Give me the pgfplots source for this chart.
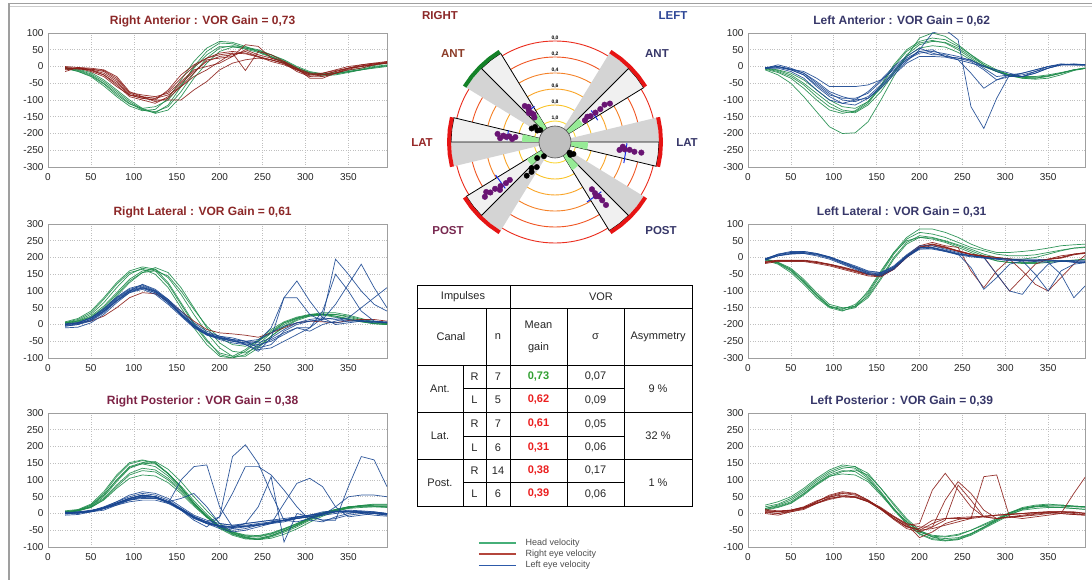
\documentclass[border=0pt]{standalone}
\usepackage{pgfplots}
\pgfplotsset{compat=1.18}
\usepackage{pgfplotstable}
\usepackage{fontspec}
\setmainfont{Liberation Sans}

\definecolor{hc}{RGB}{30,140,75}
\definecolor{rc}{RGB}{140,30,25}
\definecolor{lc}{RGB}{25,70,145}
\definecolor{titR}{RGB}{140,40,40}
\definecolor{titRP}{RGB}{125,35,70}
\definecolor{titL}{RGB}{55,55,105}
\definecolor{pur}{RGB}{105,20,115}
\definecolor{ringA}{RGB}{235,45,30}
\definecolor{ringB}{RGB}{240,85,35}
\definecolor{ringC}{RGB}{245,130,40}
\definecolor{ringD}{RGB}{250,165,40}
\definecolor{ringE}{RGB}{250,195,40}
\definecolor{ringF}{RGB}{250,215,60}
\definecolor{wg}{RGB}{212,212,212}
\definecolor{ww}{RGB}{240,240,240}
\definecolor{gp}{RGB}{150,235,150}
\definecolor{arcR}{RGB}{230,20,20}
\definecolor{arcG}{RGB}{20,130,40}
\definecolor{bm}{RGB}{20,40,230}
\definecolor{goodG}{RGB}{50,160,50}
\definecolor{badR}{RGB}{235,30,30}
\definecolor{legH}{RGB}{70,175,120}
\definecolor{legR}{RGB}{180,70,60}
\definecolor{legL}{RGB}{45,90,170}
\definecolor{labRA}{RGB}{140,60,40}
\definecolor{labRL}{RGB}{150,40,40}
\definecolor{labRP}{RGB}{120,40,80}
\definecolor{labLeft}{RGB}{45,70,150}

% ---------------- data: one row per trace, columns = time (ms) ----------------
\pgfplotstableread{
t 20 35 50 65 80 95 110 125 140 155 170 185 200 215 230 245 260 275 290 305 320 335 350 365 380 395
g1 -5 -12 -25 -50 -80 -110 -130 -138 -115 -60 0 45 70 68 55 45 30 15 -5 -20 -25 -22 -15 -8 0 5
g2 -3 -8 -18 -40 -70 -100 -125 -140 -130 -90 -35 10 45 58 55 48 35 20 0 -15 -22 -20 -15 -10 -5 0
g3 -5 -15 -30 -58 -90 -118 -132 -128 -95 -40 15 55 75 72 60 45 30 12 -8 -22 -28 -25 -18 -10 -2 3
g4 -4 -10 -22 -45 -75 -105 -128 -135 -120 -75 -20 25 55 62 58 50 35 18 -3 -18 -25 -22 -16 -10 -3 2
g5 -6 -14 -28 -52 -85 -112 -125 -120 -100 -55 -5 35 60 60 52 42 28 12 -5 -18 -22 -18 -12 -5 3 10
r1 -5 -5 -8 -15 -40 -80 -92 -95 -75 -35 0 25 35 40 38 28 20 10 -15 -30 -25 -15 -5 5 10 15
r2 -10 -5 -12 -25 -55 -90 -100 -110 -90 -50 -15 15 30 35 45 30 15 5 -10 -25 -20 -10 0 5 10 10
r3 0 -3 -5 -10 -30 -75 -90 -95 -85 -60 -20 20 25 30 50 35 25 15 -5 -20 -20 -12 -5 0 5 12
r4 -5 -8 -10 -20 -45 -85 -95 -100 -100 -100 -70 -45 -10 10 20 25 20 10 -10 -25 -25 -20 -10 -5 5 10
r5 -8 -5 -15 -30 -60 -85 -90 -105 -95 -60 -30 -10 15 40 -12 45 35 15 -5 -35 -35 -20 -5 0 5 15
r6 -3 -5 -10 -25 -50 -85 -95 -100 -70 -25 5 25 40 45 40 30 20 8 -10 -28 -30 -20 -8 0 8 12
r7 -15 -3 -8 -12 -35 -78 -85 -90 -80 -45 -10 0 10 30 65 60 25 12 -8 -22 -25 -15 -5 2 8 10
}\RAraw
\pgfplotstabletranspose[colnames from=t,input colnames to=x]{\RA}{\RAraw}

\pgfplotstableread{
t 20 35 50 65 80 95 110 125 140 155 170 185 200 215 230 245 260 275 290 305 320 335 350 365 380 395
g1 5 12 30 65 110 150 168 160 120 60 0 -50 -85 -95 -75 -45 -15 8 22 30 30 25 15 8 2 0
g2 8 18 40 80 125 160 172 165 125 65 5 -45 -90 -100 -90 -60 -25 5 20 28 30 25 18 10 3 0
g3 5 10 25 55 95 135 160 165 140 90 30 -25 -70 -95 -95 -70 -35 -5 15 28 32 30 22 12 5 2
g4 3 8 20 45 85 125 155 170 155 110 50 -10 -55 -80 -85 -65 -35 -8 12 25 30 30 25 15 8 3
g5 6 15 35 75 120 155 165 150 110 50 -10 -60 -95 -100 -80 -50 -20 5 18 25 28 22 15 8 3 0
g6 4 10 22 50 90 130 155 160 145 100 45 -5 -40 -60 -65 -50 -25 0 18 30 35 35 28 18 8 3
r1 0 5 10 25 50 80 95 92 70 40 10 -15 -25 -28 -32 -38 -25 -10 5 10 8 5 12 15 15 10
b1 0 5 20 45 80 105 115 100 70 30 -5 -30 -40 -45 -50 -55 -40 -15 5 15 20 15 10 10 8 5
b2 -5 0 10 35 70 100 120 105 75 35 0 -25 -35 -40 -50 -70 -60 -20 0 10 15 20 15 10 5 5
b3 -10 -8 5 30 65 95 110 100 75 40 5 -20 -35 -45 -60 -80 -40 80 130 70 20 0 5 10 10 5
b4 0 3 15 40 75 100 110 95 65 30 -5 -30 -45 -55 -60 -75 -70 -50 -30 -10 20 195 150 100 60 40
b5 -5 0 15 40 70 95 105 90 60 25 -10 -30 -40 -50 -55 -60 -50 -30 -10 -10 40 150 100 40 10 5
b6 0 5 18 42 78 102 112 98 68 30 -5 -28 -38 -45 -50 -45 -25 -5 5 10 15 60 120 180 110 50
b7 -3 2 12 38 72 98 108 95 65 28 -8 -32 -42 -50 -58 -65 -45 -25 -10 -20 0 10 20 50 80 110
b8 2 6 20 48 82 108 118 102 72 32 -2 -26 -40 -48 -55 -50 -10 80 80 30 10 5 10 12 10 8
}\RLraw
\pgfplotstabletranspose[colnames from=t,input colnames to=x]{\RL}{\RLraw}

\pgfplotstableread{
t 20 35 50 65 80 95 110 125 140 155 170 185 200 215 230 245 260 275 290 305 320 335 350 365 380 395
g1 5 10 25 60 110 148 158 150 118 78 32 -8 -42 -62 -74 -76 -66 -52 -36 -16 0 12 20 22 25 25
g2 0 8 20 50 95 135 150 148 120 82 38 -2 -38 -60 -72 -78 -70 -56 -40 -20 -5 8 18 24 28 28
g3 5 10 20 45 85 120 135 130 105 70 28 -10 -40 -58 -68 -70 -62 -48 -32 -14 0 10 18 22 22 22
g4 3 8 18 40 75 105 115 112 92 60 22 -12 -38 -55 -64 -66 -58 -45 -30 -14 -2 8 15 18 20 20
g5 8 12 28 65 115 152 160 152 120 78 30 -10 -45 -65 -76 -78 -68 -52 -34 -14 2 12 20 22 22 20
g6 2 8 22 55 100 140 152 155 132 95 50 8 -30 -55 -70 -78 -74 -62 -46 -26 -8 6 16 24 25 25
g7 4 8 18 42 80 115 128 124 100 66 26 -10 -40 -56 -66 -68 -60 -46 -30 -12 2 12 18 20 20 18
g8 6 10 25 55 100 138 148 140 112 75 32 -6 -40 -60 -72 -74 -66 -52 -36 -18 -2 10 20 24 26 26
b1 0 5 5 15 30 45 55 50 35 10 -15 -30 -40 -45 -40 -35 -30 -25 -15 -8 0 5 5 5 3 0
b2 5 0 8 20 35 50 60 55 40 15 -10 -25 -35 -40 -38 -35 -28 -20 -12 -5 2 5 8 5 0 -5
b3 -5 -3 5 10 25 40 50 50 35 15 -8 -25 -40 -50 -45 -35 -25 -20 -10 -5 5 8 5 3 0 -3
b4 0 2 8 18 35 55 65 60 45 20 -5 -20 -30 -35 -35 -30 -25 -20 -15 -10 -2 5 10 8 5 0
b5 3 5 10 15 25 35 40 40 30 10 -10 -30 -45 -55 -50 -40 -30 -20 -10 -5 0 5 5 0 -5 -8
b6 0 2 5 15 30 45 55 50 30 100 140 145 20 -40 -30 -25 -20 -15 -10 -5 0 5 5 3 0 -2
b7 0 3 8 18 30 40 45 45 35 10 -20 -40 -10 170 205 150 60 -20 -25 -15 -5 0 5 5 0 -5
b8 0 3 6 15 28 42 50 48 35 15 -10 -25 -10 60 140 140 115 70 20 -20 -25 -10 0 5 5 0
b9 2 4 8 16 30 44 52 50 36 14 -12 -28 -36 -40 -30 20 110 -85 0 -10 -20 -15 -5 0 2 0
b10 -2 2 6 14 28 40 48 46 32 12 -14 -30 -38 -42 -38 -32 -30 30 90 105 80 20 -10 -5 0 0
b11 1 3 7 17 32 46 54 50 34 12 -12 -28 -38 -42 -38 -34 -28 -22 -14 -8 -20 -20 80 170 160 80
b12 0 3 5 15 30 45 55 50 35 45 60 20 -30 -35 -30 -25 -20 -20 -15 -10 -5 20 50 55 55 50
}\RPraw
\pgfplotstabletranspose[colnames from=t,input colnames to=x]{\RP}{\RPraw}

\pgfplotstableread{
t 20 35 50 65 80 95 110 125 140 155 170 185 200 215 230 245 260 275 290 305 320 335 350 365 380 395
g1 -5 -12 -25 -50 -80 -110 -130 -135 -110 -60 0 45 70 78 70 50 25 0 -15 -25 -32 -35 -30 -20 -10 -5
g2 -8 -18 -35 -65 -100 -130 -140 -132 -105 -55 5 50 75 85 80 60 35 10 -10 -25 -35 -38 -35 -25 -12 -5
g3 -10 -25 -50 -90 -135 -180 -200 -198 -165 -100 -30 30 85 100 90 65 35 5 -15 -28 -35 -35 -28 -20 -10 -5
g4 -5 -10 -20 -40 -70 -100 -120 -125 -105 -65 -15 30 55 62 58 42 20 0 -15 -25 -30 -30 -25 -18 -10 -5
g5 -6 -15 -30 -55 -90 -120 -135 -138 -115 -75 -20 35 65 75 72 55 30 5 -12 -25 -32 -32 -28 -20 -10 -3
b1 -5 5 -5 -20 -50 -80 -100 -105 -90 -55 -15 20 40 45 38 30 18 2 -15 -30 -30 -15 0 5 5 5
b2 -3 0 -8 -15 -35 -60 -60 -60 -55 -40 -10 20 45 50 30 25 20 -5 -30 -25 -20 -10 0 8 5 3
b3 -5 0 -10 -25 -60 -90 -110 -115 -95 -60 -20 15 50 100 110 80 -120 -185 -95 -25 -25 -15 -5 5 5 5
b4 -5 -5 -15 -35 -70 -100 -110 -100 -75 -40 0 30 55 40 30 25 15 -10 -40 -30 -20 -10 0 5 5 5
b5 -5 -3 -10 -25 -55 -85 -95 -95 -80 -45 -5 25 45 35 35 20 -20 -65 -40 -25 -30 -20 -5 5 8 5
b6 -3 0 -8 -20 -45 -75 -90 -100 -95 -65 -25 10 30 30 28 20 10 0 -10 -20 -30 -20 -5 5 5 5
}\LAraw
\pgfplotstabletranspose[colnames from=t,input colnames to=x]{\LA}{\LAraw}

\pgfplotstableread{
t 20 35 50 65 80 95 110 125 140 155 170 185 200 215 230 245 260 275 290 305 320 335 350 365 380 395
g1 -5 -15 -35 -70 -110 -145 -158 -150 -110 -50 10 55 75 70 60 45 30 20 10 5 5 8 15 22 28 32
g2 -8 -20 -45 -80 -120 -150 -160 -145 -100 -40 15 60 85 85 75 60 40 25 15 15 18 22 28 35 38 40
g3 -5 -18 -40 -75 -115 -148 -155 -140 -105 -45 15 50 60 55 45 30 15 0 -10 -15 -15 -15 -12 -10 -8 -5
g4 -6 -16 -38 -72 -112 -146 -152 -145 -115 -60 0 45 65 60 50 38 25 10 0 -5 -5 0 10 20 28 30
g5 -4 -14 -32 -65 -105 -140 -150 -148 -120 -65 -5 40 60 58 48 35 20 5 -10 -15 -18 -18 -15 -12 -8 -5
b1 -5 10 15 15 10 0 -15 -30 -45 -50 -30 5 30 30 20 10 5 0 -3 -5 -8 -10 -10 -12 -12 -15
b2 -8 5 12 12 5 -5 -20 -35 -50 -55 -35 0 25 28 20 10 -30 -95 -60 -20 -10 -10 -10 -10 -15 -15
b3 -3 8 15 18 12 2 -12 -28 -42 -45 -25 8 35 35 25 15 5 0 -50 -100 -110 -60 -20 -10 -10 -10
b4 -5 5 10 12 8 -2 -18 -32 -48 -52 -32 2 28 30 22 12 5 0 -5 -10 -10 -50 -100 -40 -20 -15
b5 -6 6 12 14 10 0 -15 -30 -45 -48 -28 5 30 28 18 8 2 -2 -5 -8 -10 -12 -15 -50 -120 -80
b6 -4 10 18 18 12 2 -12 -25 -40 -45 -28 5 25 25 18 10 5 0 -3 -5 -5 -5 -8 -10 -10 -12
r1 -15 -10 -10 -10 -15 -20 -30 -40 -50 -55 -35 0 30 40 30 20 10 5 0 -5 -8 -10 -5 0 10 15
r2 -18 -12 -12 -12 -18 -25 -35 -45 -55 -58 -35 5 35 45 35 30 -40 -90 -40 -5 -10 -10 -5 5 10 12
r3 -12 -8 -8 -8 -12 -20 -28 -38 -48 -52 -32 2 28 35 28 18 8 2 -50 -100 -60 -20 -5 0 10 15
r4 -15 -10 -10 -10 -15 -22 -32 -42 -52 -55 -35 0 32 40 32 20 10 3 -3 -5 -40 -80 -100 -60 -20 10
r5 -14 -9 -9 -9 -14 -21 -30 -40 -50 -54 -34 1 30 38 30 19 9 4 0 -4 -8 -10 -6 -2 8 14
}\LLraw
\pgfplotstabletranspose[colnames from=t,input colnames to=x]{\LL}{\LLraw}

\pgfplotstableread{
t 20 35 50 65 80 95 110 125 140 155 170 185 200 215 230 245 260 275 290 305 320 335 350 365 380 395
g1 25 35 50 75 105 130 145 140 110 65 15 -30 -60 -75 -80 -75 -60 -40 -18 2 18 25 28 25 22 20
g2 15 25 40 65 95 120 135 140 120 75 25 -20 -55 -70 -75 -72 -60 -42 -22 0 15 22 25 25 22 20
g3 10 18 30 55 85 110 125 130 115 75 30 -15 -50 -70 -80 -78 -65 -45 -25 -5 12 20 22 22 20 18
g4 15 22 35 60 90 115 128 125 100 60 15 -25 -55 -68 -70 -65 -50 -32 -15 3 15 20 20 18 15 12
g5 20 28 45 70 100 125 140 135 105 60 10 -30 -62 -78 -82 -78 -62 -42 -20 0 15 22 25 25 22 20
g6 12 20 32 58 88 112 118 115 95 55 12 -25 -52 -65 -68 -62 -50 -35 -18 -2 10 15 18 18 15 12
r1 5 0 5 15 35 55 65 60 40 15 -15 -40 -50 -30 -15 -12 -10 -8 -5 -3 0 3 5 5 3 0
r2 10 5 10 20 38 50 55 50 35 15 -10 -35 -30 70 120 70 20 -10 -15 -10 -5 0 5 5 0 -5
r3 0 -5 5 12 30 48 60 55 38 12 -18 -45 -55 -40 40 95 60 10 -15 -12 -8 -2 2 5 3 0
r4 8 5 8 18 32 45 52 50 38 18 -8 -30 -40 -40 -20 85 40 -10 -15 -10 -8 -5 0 5 5 0
r5 5 5 10 18 35 52 62 58 40 15 -15 -40 -45 -20 -15 -15 -15 110 115 -10 -15 -10 -5 0 -3 -5
r6 3 0 8 15 30 45 50 48 35 12 -15 -38 -50 -45 -35 -25 -15 -10 -5 -3 0 3 5 0 60 115
r7 12 8 10 18 30 42 50 48 36 15 -10 -32 -72 -55 -30 -18 -12 -8 -5 -2 0 2 2 0 -3 -5
}\LPraw
\pgfplotstabletranspose[colnames from=t,input colnames to=x]{\LP}{\LPraw}

\pgfplotsset{
  vpanel/.style={
    anchor=north west, scale only axis, height=134pt, xmin=0,
    xtick={0,50,...,350}, ytick distance=50,
    grid=major, major grid style={dotted, gray!50, line width=0.6pt},
    axis line style={gray!75, line width=0.9pt},
    tick style={draw=none},
    tick label style={font=\fontsize{10}{11}\selectfont, text=black!85},
    xticklabel style={yshift=-2.5pt},
    yticklabel style={xshift=-1pt},
    /pgf/number format/assume math mode=true,
    title style={at={(0.456,1)}, anchor=base, yshift=2.5pt, font=\bfseries\fontsize{12}{14}\selectfont},
    every axis plot/.append style={line width=0.7pt, opacity=0.9},
  },
  lpanel/.style={vpanel, width=339pt, xmax=395},
  rpanel/.style={vpanel, width=337pt, xmax=393},
}

\begin{document}
\begin{tikzpicture}
\path[use as bounding box, fill=white] (0pt,0pt) rectangle (1092pt,-580pt);
\draw[gray!75, line width=1.4pt] (9pt,-3.5pt) -- (1092pt,-3.5pt);
\draw[gray!40, line width=0.8pt] (10pt,-6pt) -- (1092pt,-6pt);
\draw[gray!75, line width=1.4pt] (9pt,-3.5pt) -- (9pt,-580pt);

% ---------- Right Anterior ----------
\begin{axis}[lpanel, at={(48pt,-33pt)}, ymin=-300, ymax=100,
  title={Right Anterior : VOR Gain = 0,73}, title style={text=titR}]
\pgfplotsinvokeforeach{g1,g2,g3,g4,g5}{\addplot[hc] table[x=x,y=#1]{\RA};}
\pgfplotsinvokeforeach{r1,r2,r3,r4,r5,r6,r7}{\addplot[rc] table[x=x,y=#1]{\RA};}
\end{axis}

% ---------- Right Lateral ----------
\begin{axis}[lpanel, at={(48pt,-224pt)}, ymin=-100, ymax=300,
  title={Right Lateral : VOR Gain = 0,61}, title style={text=titR}]
\pgfplotsinvokeforeach{g1,g2,g3,g4,g5,g6}{\addplot[hc] table[x=x,y=#1]{\RL};}
\addplot[rc] table[x=x,y=r1]{\RL};
\pgfplotsinvokeforeach{b1,b2,b3,b4,b5,b6,b7,b8}{\addplot[lc] table[x=x,y=#1]{\RL};}
\end{axis}

% ---------- Right Posterior ----------
\begin{axis}[lpanel, at={(48pt,-413pt)}, ymin=-100, ymax=300,
  title={Right Posterior : VOR Gain = 0,38}, title style={text=titRP}]
\pgfplotsinvokeforeach{g1,g2,g3,g4,g5,g6,g7,g8}{\addplot[hc] table[x=x,y=#1]{\RP};}
\pgfplotsinvokeforeach{b1,b2,b3,b4,b5,b6,b7,b8,b9,b10,b11,b12}{\addplot[lc] table[x=x,y=#1]{\RP};}
\end{axis}

% ---------- Left Anterior ----------
\begin{axis}[rpanel, at={(748pt,-33pt)}, ymin=-300, ymax=100,
  title={Left Anterior : VOR Gain = 0,62}, title style={text=titL}]
\pgfplotsinvokeforeach{g1,g2,g3,g4,g5}{\addplot[hc] table[x=x,y=#1]{\LA};}
\pgfplotsinvokeforeach{b1,b2,b3,b4,b5,b6}{\addplot[lc] table[x=x,y=#1]{\LA};}
\end{axis}

% ---------- Left Lateral ----------
\begin{axis}[rpanel, at={(748pt,-224pt)}, ymin=-300, ymax=100,
  title={Left Lateral : VOR Gain = 0,31}, title style={text=titL}]
\pgfplotsinvokeforeach{g1,g2,g3,g4,g5}{\addplot[hc] table[x=x,y=#1]{\LL};}
\pgfplotsinvokeforeach{r1,r2,r3,r4,r5}{\addplot[rc] table[x=x,y=#1]{\LL};}
\pgfplotsinvokeforeach{b1,b2,b3,b4,b5,b6}{\addplot[lc] table[x=x,y=#1]{\LL};}
\end{axis}

% ---------- Left Posterior ----------
\begin{axis}[rpanel, at={(748pt,-413pt)}, ymin=-100, ymax=300,
  title={Left Posterior : VOR Gain = 0,39}, title style={text=titL}]
\pgfplotsinvokeforeach{g1,g2,g3,g4,g5,g6}{\addplot[hc] table[x=x,y=#1]{\LP};}
\pgfplotsinvokeforeach{r1,r2,r3,r4,r5,r6,r7}{\addplot[rc] table[x=x,y=#1]{\LP};}
\end{axis}

% ---------- polar gain diagram ----------
\begin{axis}[at={(555pt,-142pt)}, anchor=center, scale only axis,
  width=240pt, height=240pt, xmin=-120, xmax=120, ymin=-120, ymax=120,
  hide axis, clip=false]
\draw[ringA, line width=0.9pt] (axis cs:0,0) circle[radius=101];
\draw[ringB, line width=0.9pt] (axis cs:0,0) circle[radius=85];
\draw[ringC, line width=0.9pt] (axis cs:0,0) circle[radius=69];
\draw[ringD, line width=0.9pt] (axis cs:0,0) circle[radius=53];
\draw[ringE, line width=0.9pt] (axis cs:0,0) circle[radius=37];
\draw[ringF, line width=0.9pt] (axis cs:0,0) circle[radius=21];
% grey halves
\addplot[fill=wg, draw=none, data cs=polar] coordinates {(0,0)(135,104)(141.75,104)(148.5,104)(0,0)};
\addplot[fill=wg, draw=none, data cs=polar] coordinates {(0,0)(180,104)(186.75,104)(193.5,104)(0,0)};
\addplot[fill=wg, draw=none, data cs=polar] coordinates {(0,0)(225,104)(231.75,104)(238.5,104)(0,0)};
\addplot[fill=wg, draw=none, data cs=polar] coordinates {(0,0)(45,104)(51.75,104)(58.5,104)(0,0)};
\addplot[fill=wg, draw=none, data cs=polar] coordinates {(0,0)(0,104)(6.75,104)(13.5,104)(0,0)};
\addplot[fill=wg, draw=none, data cs=polar] coordinates {(0,0)(-45,104)(-38.25,104)(-31.5,104)(0,0)};
% white halves
\addplot[fill=ww, draw=black, line width=0.8pt, data cs=polar] coordinates {(0,0)(121.5,104)(128.25,104)(135,104)(0,0)};
\addplot[fill=ww, draw=black, line width=0.8pt, data cs=polar] coordinates {(0,0)(166.5,104)(173.25,104)(180,104)(0,0)};
\addplot[fill=ww, draw=black, line width=0.8pt, data cs=polar] coordinates {(0,0)(211.5,104)(218.25,104)(225,104)(0,0)};
\addplot[fill=ww, draw=black, line width=0.8pt, data cs=polar] coordinates {(0,0)(31.5,104)(38.25,104)(45,104)(0,0)};
\addplot[fill=ww, draw=black, line width=0.8pt, data cs=polar] coordinates {(0,0)(-13.5,104)(-6.75,104)(0,104)(0,0)};
\addplot[fill=ww, draw=black, line width=0.8pt, data cs=polar] coordinates {(0,0)(-58.5,104)(-51.75,104)(-45,104)(0,0)};
% normal range patches
\addplot[fill=gp, draw=none, data cs=polar] coordinates {(121.5,16)(121.5,33)(128.25,33)(135,33)(135,16)};
\addplot[fill=gp, draw=none, data cs=polar] coordinates {(166.5,16)(166.5,33)(173.25,33)(180,33)(180,16)};
\addplot[fill=gp, draw=none, data cs=polar] coordinates {(211.5,16)(211.5,33)(218.25,33)(225,33)(225,16)};
\addplot[fill=gp, draw=none, data cs=polar] coordinates {(31.5,16)(31.5,33)(38.25,33)(45,33)(45,16)};
\addplot[fill=gp, draw=none, data cs=polar] coordinates {(-13.5,16)(-13.5,33)(-6.75,33)(0,33)(0,16)};
\addplot[fill=gp, draw=none, data cs=polar] coordinates {(-58.5,16)(-58.5,33)(-51.75,33)(-45,33)(-45,16)};
\draw[fill=gray!50, draw=gray!60!black, line width=0.6pt] (axis cs:0,0) circle[radius=16];
% black dots
\addplot[only marks, mark=*, mark size=2.7pt, black, data cs=polar] coordinates {(143,25)(141,19)(147,21)(150,27)(232,18)(222,24)(234,31)(232,38)(230,44)(228,35)(-40,20)(-36,18)(-33,22)};
% purple impulse gains
\addplot[only marks, mark=*, mark size=2.8pt, pur, data cs=polar] coordinates {(130,47)(129,42)(129,37)(130,32)(127,44)(132,39)(128,35)};
\addplot[only marks, mark=*, mark size=2.8pt, pur, data cs=polar] coordinates {(172,58)(173,52)(173,46)(173,40)(176,55)(176,43)(174,49)};
\addplot[only marks, mark=*, mark size=2.8pt, pur, data cs=polar] coordinates {(218,89)(218,82)(218,76)(219,70)(220,64)(220,59)(216,85)(221,73)};
\addplot[only marks, mark=*, mark size=2.8pt, pur, data cs=polar] coordinates {(36,37)(36,44)(36,50)(36,56)(37,62)(35,67)(38,41)};
\addplot[only marks, mark=*, mark size=2.8pt, pur, data cs=polar] coordinates {(-7,65)(-6,70)(-6,75)(-7,80)(-7,87)(-4,68)};
\addplot[only marks, mark=*, mark size=2.8pt, pur, data cs=polar] coordinates {(-52,60)(-52,65)(-51,70)(-51,75)(-51,81)(-53,68)};
% blue spread markers
\addplot[bm, line width=1pt, data cs=polar] coordinates {(120,41)(127,41)};
\addplot[bm, line width=1pt, data cs=polar] coordinates {(166,48)(178,48)};
\addplot[bm, line width=1pt, data cs=polar] coordinates {(209,68)(223,68)};
\addplot[bm, line width=1pt, data cs=polar] coordinates {(27,48)(41,48)};
\addplot[bm, line width=1pt, data cs=polar] coordinates {(-17,72)(-1,72)};
\addplot[bm, line width=1pt, data cs=polar] coordinates {(-62,68)(-47,68)};
% outer arcs
\addplot[arcG, line width=4pt, data cs=polar] coordinates {(121.5,106)(128.25,106)(135,106)(141.75,106)(148.5,106)};
\addplot[arcR, line width=4pt, data cs=polar] coordinates {(166.5,106)(173.25,106)(180,106)(186.75,106)(193.5,106)};
\addplot[arcR, line width=4pt, data cs=polar] coordinates {(211.5,106)(218.25,106)(225,106)(231.75,106)(238.5,106)};
\addplot[arcR, line width=4pt, data cs=polar] coordinates {(31.5,106)(38.25,106)(45,106)(51.75,106)(58.5,106)};
\addplot[arcR, line width=4pt, data cs=polar] coordinates {(-13.5,106)(-6.75,106)(0,106)(6.75,106)(13.5,106)};
\addplot[arcR, line width=4pt, data cs=polar] coordinates {(-58.5,106)(-51.75,106)(-45,106)(-38.25,106)(-31.5,106)};
% ring labels
\node[font=\bfseries\fontsize{5}{5}\selectfont, inner sep=0pt] at (axis cs:0,104) {0,0};
\node[font=\bfseries\fontsize{5}{5}\selectfont, inner sep=0pt] at (axis cs:0,88) {0,2};
\node[font=\bfseries\fontsize{5}{5}\selectfont, inner sep=0pt] at (axis cs:0,72) {0,4};
\node[font=\bfseries\fontsize{5}{5}\selectfont, inner sep=0pt] at (axis cs:0,56) {0,6};
\node[font=\bfseries\fontsize{5}{5}\selectfont, inner sep=0pt] at (axis cs:0,40) {0,8};
\node[font=\bfseries\fontsize{5}{5}\selectfont, inner sep=0pt] at (axis cs:0,24) {1,0};
\end{axis}

% polar labels
\begin{scope}[every node/.style={font=\bfseries\fontsize{11.5}{13}\selectfont}]
\node[text=titR] at (440pt,-16pt) {RIGHT};
\node[text=labLeft] at (673pt,-16pt) {LEFT};
\node[text=labRA] at (453pt,-54pt) {ANT};
\node[text=titL] at (657pt,-54pt) {ANT};
\node[text=labRL] at (422pt,-143pt) {LAT};
\node[text=titL] at (687pt,-143pt) {LAT};
\node[text=labRP] at (448pt,-231pt) {POST};
\node[text=titL] at (661pt,-231pt) {POST};
\end{scope}

% ---------- summary table ----------
\begin{scope}[line width=0.9pt, every node/.style={font=\fontsize{11}{13}\selectfont, text=black!85}]
\draw (417pt,-285pt) rectangle (692pt,-506pt);
\draw (417pt,-308pt) -- (692pt,-308pt);
\draw (417pt,-365pt) -- (692pt,-365pt);
\draw (417pt,-412pt) -- (692pt,-412pt);
\draw (417pt,-459pt) -- (692pt,-459pt);
\draw (463pt,-388pt) -- (624pt,-388pt);
\draw (463pt,-436pt) -- (624pt,-436pt);
\draw (463pt,-482pt) -- (624pt,-482pt);
\draw (510pt,-285pt) -- (510pt,-506pt);
\draw (486pt,-308pt) -- (486pt,-506pt);
\draw (463pt,-365pt) -- (463pt,-506pt);
\draw (567pt,-308pt) -- (567pt,-506pt);
\draw (624pt,-308pt) -- (624pt,-506pt);
\node at (463pt,-296.5pt) {Impulses};
\node at (601pt,-296.5pt) {VOR};
\node at (451pt,-337pt) {Canal};
\node at (498pt,-337pt) {n};
\node at (538.5pt,-325pt) {Mean};
\node at (538.5pt,-348pt) {gain};
\node at (595.5pt,-337pt) {σ};
\node at (658pt,-337pt) {Asymmetry};
\node at (440pt,-388.5pt) {Ant.};
\node at (440pt,-435.5pt) {Lat.};
\node at (440pt,-482.5pt) {Post.};
\node at (474.5pt,-376.5pt) {R};
\node at (474.5pt,-400pt) {L};
\node at (474.5pt,-424pt) {R};
\node at (474.5pt,-447.5pt) {L};
\node at (474.5pt,-470.5pt) {R};
\node at (474.5pt,-494pt) {L};
\node at (498pt,-376.5pt) {7};
\node at (498pt,-400pt) {5};
\node at (498pt,-424pt) {7};
\node at (498pt,-447.5pt) {6};
\node at (498pt,-470.5pt) {14};
\node at (498pt,-494pt) {6};
\node[text=goodG, font=\bfseries\fontsize{11}{13}\selectfont] at (538.5pt,-376.5pt) {0,73};
\node[text=badR, font=\bfseries\fontsize{11}{13}\selectfont] at (538.5pt,-400pt) {0,62};
\node[text=badR, font=\bfseries\fontsize{11}{13}\selectfont] at (538.5pt,-424pt) {0,61};
\node[text=badR, font=\bfseries\fontsize{11}{13}\selectfont] at (538.5pt,-447.5pt) {0,31};
\node[text=badR, font=\bfseries\fontsize{11}{13}\selectfont] at (538.5pt,-470.5pt) {0,38};
\node[text=badR, font=\bfseries\fontsize{11}{13}\selectfont] at (538.5pt,-494pt) {0,39};
\node at (595.5pt,-376.5pt) {0,07};
\node at (595.5pt,-400pt) {0,09};
\node at (595.5pt,-424pt) {0,05};
\node at (595.5pt,-447.5pt) {0,06};
\node at (595.5pt,-470.5pt) {0,17};
\node at (595.5pt,-494pt) {0,06};
\node at (658pt,-388.5pt) {9 \%};
\node at (658pt,-435.5pt) {32 \%};
\node at (658pt,-482.5pt) {1 \%};
\end{scope}

% ---------- legend ----------
\begin{axis}[at={(478pt,-538pt)}, anchor=north west, scale only axis,
  width=40pt, height=30pt, hide axis, xmin=0, xmax=1, ymin=0, ymax=1,
  legend style={at={(0,1)}, anchor=north west, draw=none, fill=none,
    inner sep=0pt, row sep=1pt, font=\fontsize{9}{9}\selectfont,
    text=black!70, nodes={inner sep=1pt},
    /tikz/every odd column/.style={column sep=8pt}},
  legend cell align=left]
\addlegendimage{legend image code/.code={\draw[legH, line width=1.5pt] (0pt,0pt) -- (37pt,0pt);}}
\addlegendentry{Head velocity}
\addlegendimage{legend image code/.code={\draw[legR, line width=1.5pt] (0pt,0pt) -- (37pt,0pt);}}
\addlegendentry{Right eye velocity}
\addlegendimage{legend image code/.code={\draw[legL, line width=1.5pt] (0pt,0pt) -- (37pt,0pt);}}
\addlegendentry{Left eye velocity}
\end{axis}
\end{tikzpicture}
\end{document}
